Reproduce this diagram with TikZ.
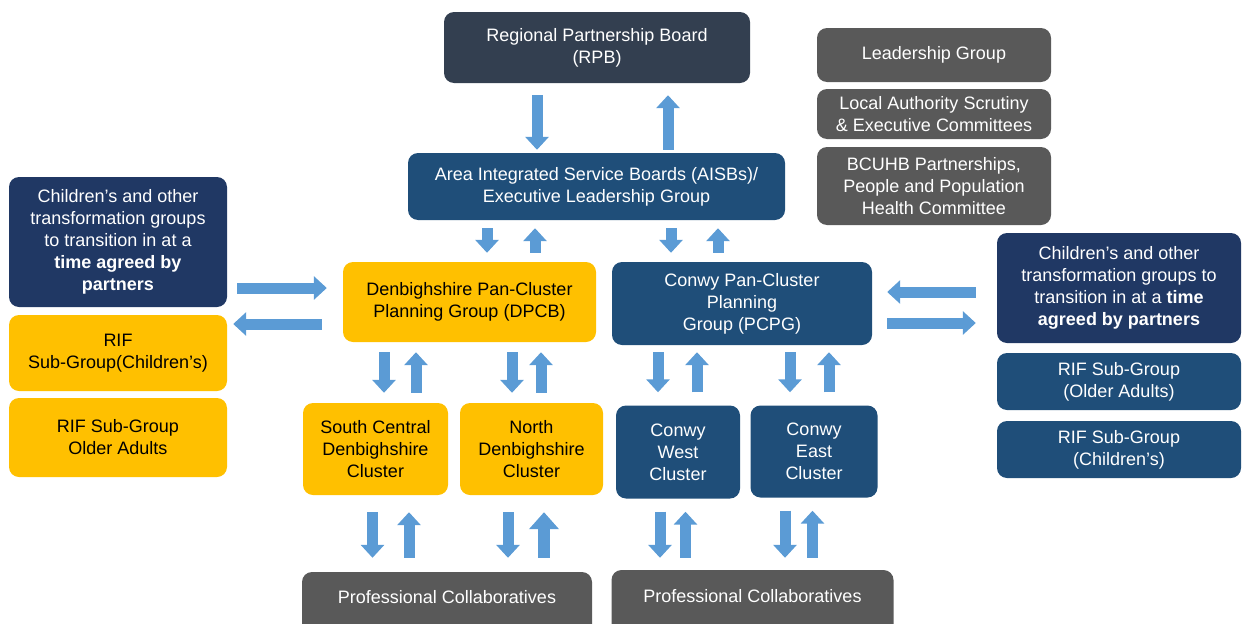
\documentclass[tikz,border=0pt]{standalone}
\usepackage{fontspec}
\setmainfont{Liberation Sans}
\usetikzlibrary{arrows.meta}
\definecolor{slate}{HTML}{333F50}
\definecolor{navy}{HTML}{203864}
\definecolor{blu}{HTML}{1F4E79}
\definecolor{gry}{HTML}{595959}
\definecolor{yel}{HTML}{FFC000}
\definecolor{arr}{HTML}{5B9BD5}
\begin{document}
\begin{tikzpicture}[x=1pt,y=-1pt,
  box/.style={rounded corners=10pt, align=center, inner sep=0pt,
    font=\fontsize{18}{22}\selectfont},
  slatebox/.style={box, fill=slate, text=white},
  navybox/.style={box, fill=navy, text=white},
  bluebox/.style={box, fill=blu, text=white},
  greybox/.style={box, fill=gry, text=white},
  yelbox/.style={box, fill=yel, text=black},
  barrow/.style={draw=arr, line width=11pt, -{Triangle[width=23pt,length=13pt]}},
  bigarrow/.style={draw=arr, line width=12pt, -{Triangle[width=29pt,length=17pt]}}
]
\useasboundingbox (0,0) rectangle (1243,624);

% top
\node[slatebox, minimum width=306pt, minimum height=71pt] (rpb) at (597,47.5) {Regional Partnership Board\\(RPB)};
\node[bluebox, minimum width=377pt, minimum height=67pt] (aisb) at (596.5,186.5) {Area Integrated Service Boards (AISBs)/\\Executive Leadership Group};

% planning groups
\node[yelbox, minimum width=253pt, minimum height=80pt] (dpcb) at (469.5,302) {Denbighshire Pan-Cluster\\Planning Group (DPCB)};
\node[bluebox, minimum width=260pt, minimum height=83pt] (pcpg) at (742,303.5) {Conwy Pan-Cluster\\Planning\\Group (PCPG)};

% clusters
\node[yelbox, minimum width=145pt, minimum height=92pt] (sc) at (375.5,449) {South Central\\Denbighshire\\Cluster};
\node[yelbox, minimum width=143pt, minimum height=92pt] (nd) at (531.5,449) {North\\Denbighshire\\Cluster};
\node[bluebox, minimum width=124pt, minimum height=93pt] (cw) at (678,452) {Conwy\\West\\Cluster};
\node[bluebox, minimum width=127pt, minimum height=92pt] (ce) at (814,451.5) {Conwy\\East\\Cluster};

% professional collaboratives
\node[greybox, minimum width=290pt, minimum height=62pt] (pc1) at (447,603) {\raisebox{12pt}{Professional Collaboratives}};
\node[greybox, minimum width=282pt, minimum height=64pt] (pc2) at (752.5,602) {\raisebox{13pt}{Professional Collaboratives}};

% left column
\node[navybox, minimum width=218pt, minimum height=130pt] (lch) at (118,242) {Children’s and other\\transformation groups\\to transition in at a\\\textbf{time agreed by}\\\textbf{partners}};
\node[yelbox, minimum width=218pt, minimum height=76pt] (rif1) at (118,353) {RIF\\Sub-Group(Children’s)};
\node[yelbox, minimum width=218pt, minimum height=79pt] (rif2) at (118,437.5) {RIF Sub-Group\\Older Adults};

% right column
\node[greybox, minimum width=234pt, minimum height=54pt] (lead) at (934,55) {Leadership Group};
\node[greybox, minimum width=234pt, minimum height=50pt] (la) at (934,114) {Local Authority Scrutiny\\\& Executive Committees};
\node[greybox, minimum width=234pt, minimum height=78pt] (bc) at (934,186) {BCUHB Partnerships,\\People and Population\\Health Committee};
\node[navybox, minimum width=244pt, minimum height=110pt] (rch) at (1119,288) {Children’s and other\\transformation groups to\\transition in at a \textbf{time}\\\textbf{agreed by partners}};
\node[bluebox, minimum width=244pt, minimum height=57pt] (rifoa) at (1119,381.5) {RIF Sub-Group\\(Older Adults)};
\node[bluebox, minimum width=244pt, minimum height=57pt] (rifch) at (1119,449.5) {RIF Sub-Group\\(Children’s)};

% arrows RPB <-> AISB
\draw[barrow, shorten <=12pt, shorten >=3pt] (537,0 |- rpb.south) -- (537,0 |- aisb.north);
\draw[barrow, shorten <=3pt, shorten >=12pt] (668,0 |- aisb.north) -- (668,0 |- rpb.south);

% AISB <-> planning groups
\draw[barrow, shorten <=8pt, shorten >=9pt] (487,0 |- aisb.south) -- (487,0 |- dpcb.north);
\draw[barrow, shorten <=9pt, shorten >=8pt] (535,0 |- dpcb.north) -- (535,0 |- aisb.south);
\draw[barrow, shorten <=8pt, shorten >=9pt] (671,0 |- aisb.south) -- (671,0 |- pcpg.north);
\draw[barrow, shorten <=9pt, shorten >=8pt] (718,0 |- pcpg.north) -- (718,0 |- aisb.south);

% planning groups <-> clusters
\draw[barrow, shorten <=10pt, shorten >=10pt] (384,0 |- dpcb.south) -- (384,0 |- sc.north);
\draw[barrow, shorten <=10pt, shorten >=10pt] (416,0 |- sc.north) -- (416,0 |- dpcb.south);
\draw[barrow, shorten <=10pt, shorten >=10pt] (512,0 |- dpcb.south) -- (512,0 |- nd.north);
\draw[barrow, shorten <=10pt, shorten >=10pt] (541,0 |- nd.north) -- (541,0 |- dpcb.south);
\draw[barrow, shorten <=7pt, shorten >=13pt] (658,0 |- pcpg.south) -- (658,0 |- cw.north);
\draw[barrow, shorten <=13pt, shorten >=7pt] (697,0 |- cw.north) -- (697,0 |- pcpg.south);
\draw[barrow, shorten <=7pt, shorten >=13pt] (790,0 |- pcpg.south) -- (790,0 |- ce.north);
\draw[barrow, shorten <=13pt, shorten >=7pt] (829,0 |- ce.north) -- (829,0 |- pcpg.south);

% clusters <-> professional collaboratives
\draw[barrow, shorten <=17pt, shorten >=14pt] (372.5,0 |- sc.south) -- (372.5,0 |- pc1.north);
\draw[barrow, shorten <=14pt, shorten >=17pt] (409,0 |- pc1.north) -- (409,0 |- sc.south);
\draw[barrow, shorten <=17pt, shorten >=14pt] (508,0 |- nd.south) -- (508,0 |- pc1.north);
\draw[bigarrow, shorten <=14pt, shorten >=17pt] (544,0 |- pc1.north) -- (544,0 |- nd.south);
\draw[barrow, shorten <=13pt, shorten >=12pt] (660,0 |- cw.south) -- (660,0 |- pc2.north);
\draw[barrow, shorten <=12pt, shorten >=13pt] (685.5,0 |- pc2.north) -- (685.5,0 |- cw.south);
\draw[barrow, shorten <=13pt, shorten >=12pt] (785,0 |- ce.south) -- (785,0 |- pc2.north);
\draw[barrow, shorten <=12pt, shorten >=13pt] (812.5,0 |- pc2.north) -- (812.5,0 |- ce.south);

% side arrows
\draw[barrow, shorten <=10pt, shorten >=16pt] (lch.east |- 0,288) -- (dpcb.west |- 0,288);
\draw[barrow, shorten <=21pt, shorten >=6pt] (dpcb.west |- 0,324) -- (rif1.east |- 0,324);
\draw[barrow, shorten <=21pt, shorten >=15pt] (rch.west |- 0,292) -- (pcpg.east |- 0,292);
\draw[barrow, shorten <=15pt, shorten >=21pt] (pcpg.east |- 0,323) -- (rch.west |- 0,323);
\end{tikzpicture}
\end{document}
